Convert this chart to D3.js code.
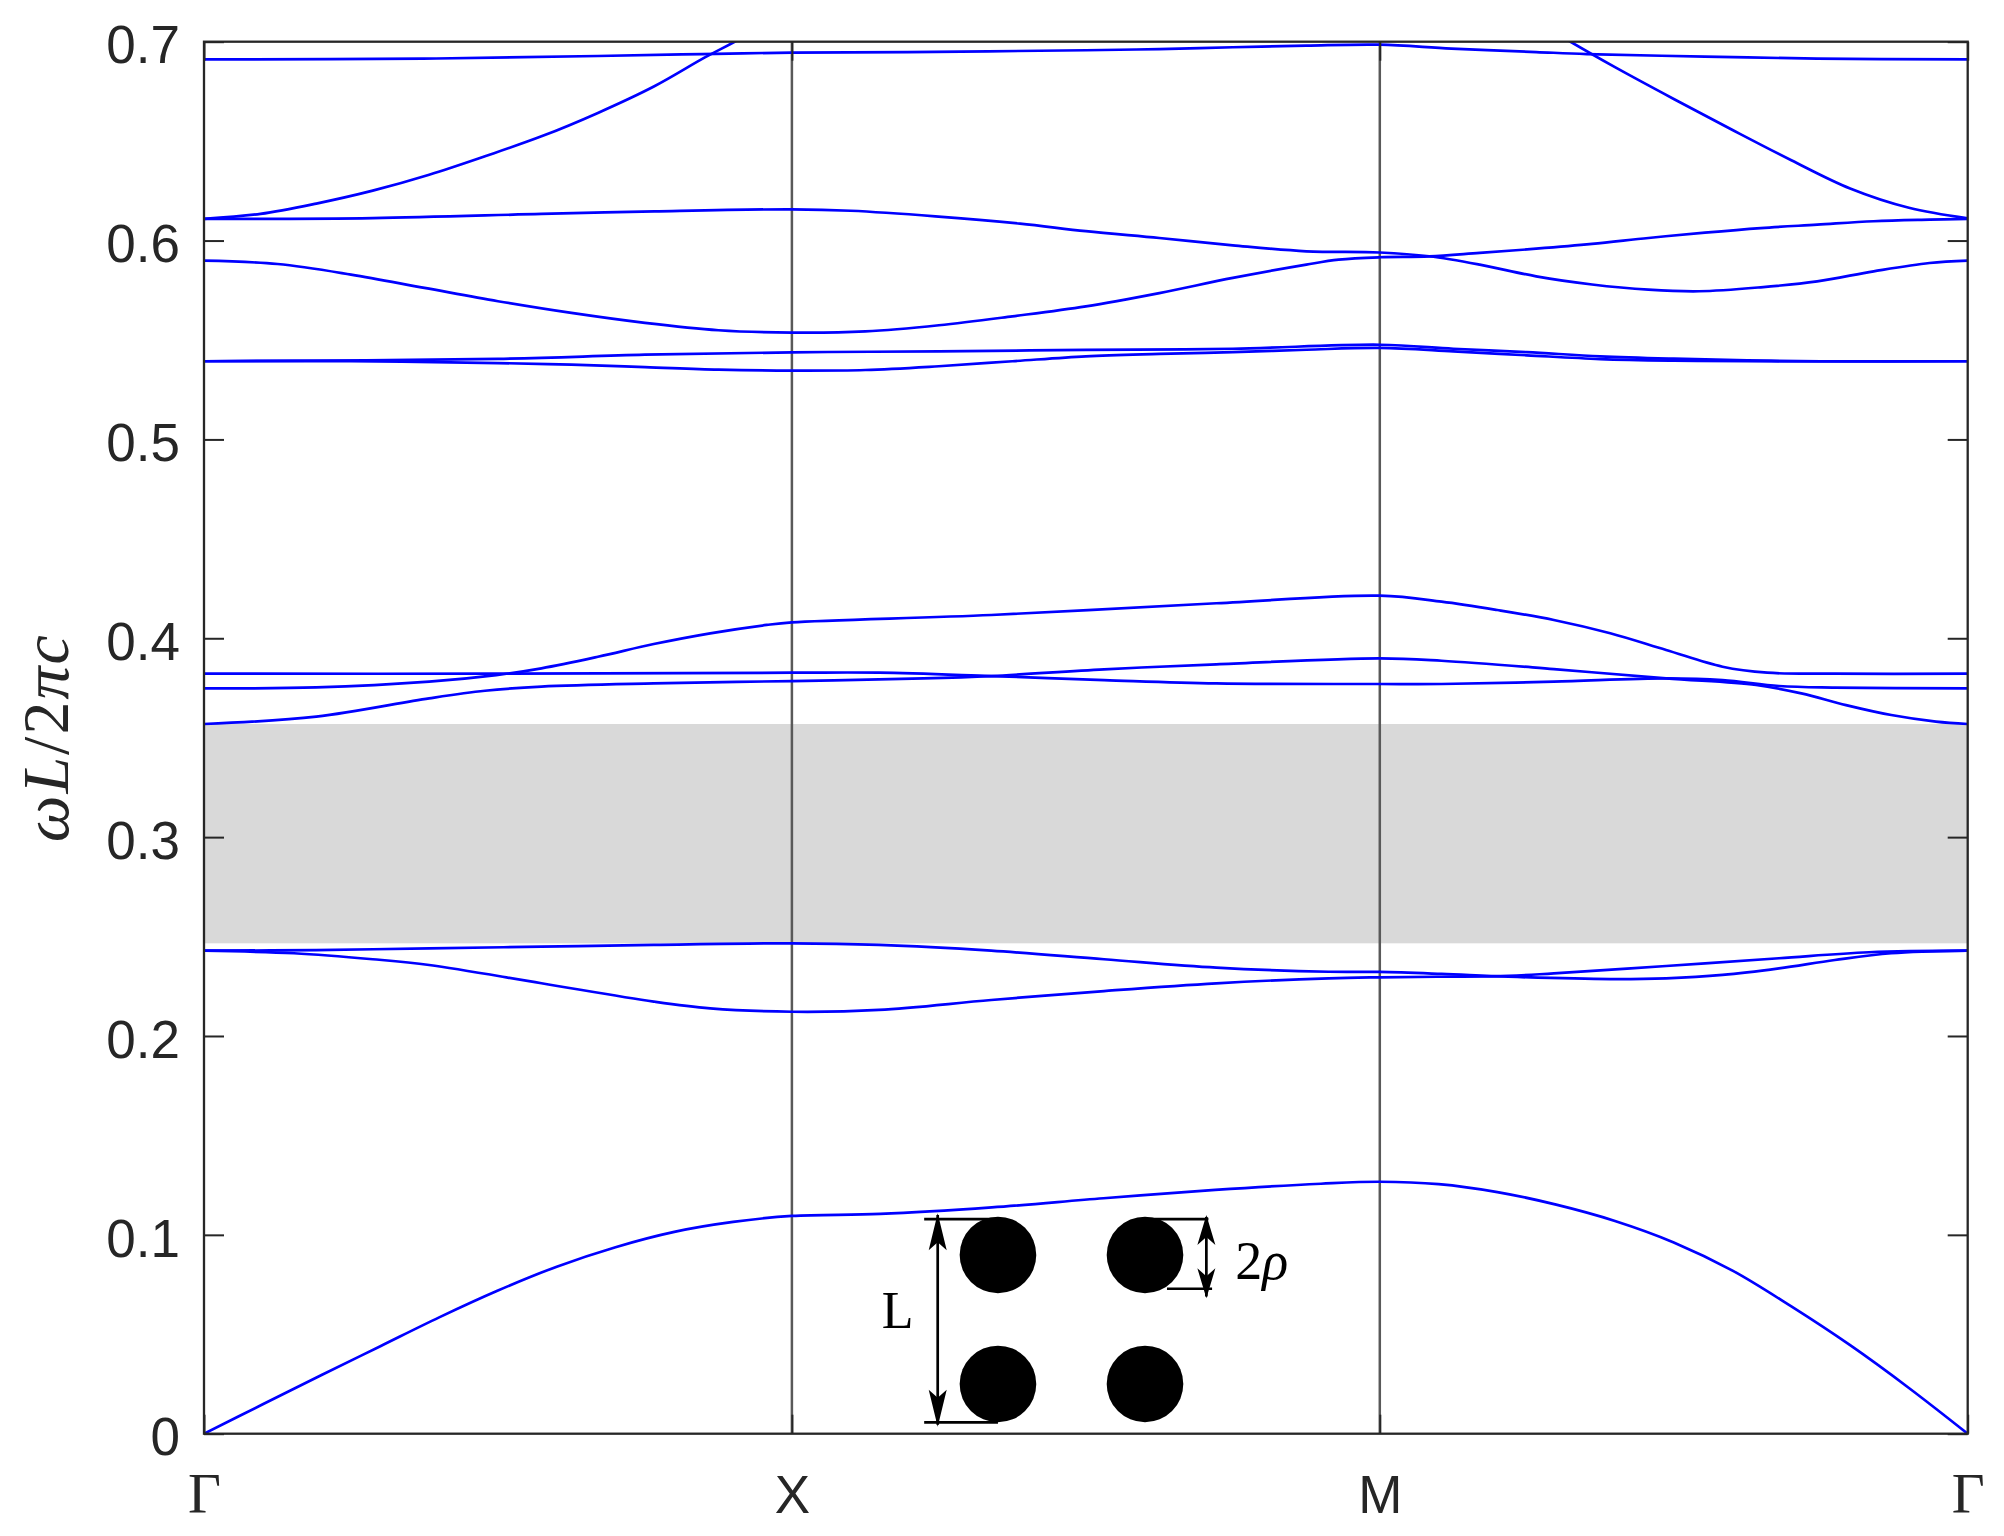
<!DOCTYPE html>
<html><head><meta charset="utf-8">
<script src="https://cdn.jsdelivr.net/npm/d3@7"></script>
<style>html,body{margin:0;padding:0;background:#fff;} svg{display:block;}</style>
</head><body>
<svg id="chart" width="2004" height="1536"></svg>
<script>
// ---- data (k: Γ=0, X=1, M=2, Γ=3 ; value: ωL/2πc) ----
const kTicks = [0, 1, 2, 3];
const kLabels = ["Γ", "X", "M", "Γ"];
const yTicks = [0, 0.1, 0.2, 0.3, 0.4, 0.5, 0.6, 0.7];
const bandGap = [0.2466, 0.3569];

const band1 = [[0,0],[0.1,0.0148],[0.2,0.0295],[0.3,0.0440],[0.4,0.0585],[0.5,0.0720],[0.6,0.0840],[0.7,0.0938],[0.8,0.1015],[0.9,0.1065],[1,0.1095],[1.15,0.1105],[1.34,0.1138],[1.53,0.1184],[1.72,0.1226],[1.9,0.1257],[2,0.1267],[2.1,0.1255],[2.2,0.1215],[2.3,0.1152],[2.4,0.1070],[2.5,0.0962],[2.6,0.0820],[2.7,0.0640],[2.8,0.0445],[2.9,0.0230],[3,0]];
const band2 = [[0,0.2429],[0.153,0.2416],[0.287,0.2386],[0.383,0.2357],[0.574,0.2265],[0.765,0.2173],[0.861,0.2139],[1,0.2122],[1.148,0.2131],[1.339,0.2181],[1.531,0.2226],[1.722,0.2265],[1.913,0.2290],[2,0.2295],[2.105,0.2298],[2.219,0.2302],[2.296,0.2315],[2.487,0.2352],[2.679,0.2391],[2.832,0.2421],[3,0.2429]];
const band3 = [[0,0.2429],[0.191,0.2432],[0.383,0.2441],[0.574,0.2449],[0.765,0.2458],[1,0.2466],[1.148,0.2458],[1.339,0.2429],[1.531,0.2386],[1.722,0.2344],[1.913,0.2323],[2,0.2322],[2.105,0.2312],[2.219,0.2298],[2.392,0.2286],[2.487,0.2290],[2.583,0.2307],[2.679,0.2340],[2.774,0.2382],[2.870,0.2416],[3,0.2429]];
const band4 = [[0,0.3569],[0.191,0.3606],[0.383,0.3698],[0.478,0.3736],[0.574,0.3757],[0.765,0.3773],[1,0.3785],[1.224,0.3798],[1.339,0.3810],[1.531,0.3844],[1.722,0.3869],[2,0.3899],[2.105,0.3887],[2.296,0.3845],[2.487,0.3798],[2.640,0.3765],[2.717,0.3723],[2.793,0.3664],[2.870,0.3614],[2.946,0.3581],[3,0.3569]];
const band5 = [[0,0.3822],[0.5,0.3822],[1,0.3827],[1.148,0.3827],[1.339,0.3810],[1.531,0.3790],[1.722,0.3773],[2,0.3770],[2.105,0.3770],[2.296,0.3782],[2.487,0.3798],[2.583,0.3790],[2.679,0.3760],[2.774,0.3752],[3,0.3748]];
const band6 = [[0,0.3748],[0.191,0.3753],[0.383,0.3782],[0.497,0.3815],[0.574,0.3849],[0.670,0.3907],[0.765,0.3971],[0.861,0.4025],[0.957,0.4067],[1,0.4080],[1.339,0.4117],[1.722,0.4176],[2,0.4214],[2.105,0.4184],[2.2,0.4142],[2.296,0.4092],[2.392,0.4025],[2.487,0.3941],[2.583,0.3857],[2.659,0.3827],[2.774,0.3822],[3,0.3822]];
const band7 = [[0,0.5393],[0.25,0.5393],[0.5,0.5384],[0.625,0.5376],[0.75,0.5364],[0.875,0.5351],[1,0.5346],[1.125,0.5349],[1.25,0.5368],[1.375,0.5393],[1.5,0.5418],[1.625,0.5430],[1.75,0.5439],[1.875,0.5451],[2,0.5460],[2.125,0.5443],[2.25,0.5423],[2.375,0.5404],[2.5,0.5396],[2.625,0.5393],[3,0.5393]];
const band8 = [[0,0.5393],[0.5,0.5405],[0.75,0.5426],[1,0.5438],[1.25,0.5443],[1.5,0.5450],[1.75,0.5456],[2,0.5476],[2.125,0.5456],[2.25,0.5439],[2.375,0.5418],[2.5,0.5406],[2.625,0.5398],[2.75,0.5393],[3,0.5393]];
const band9 = [[0,0.5899],[0.125,0.5882],[0.25,0.5829],[0.375,0.5762],[0.5,0.5695],[0.625,0.5636],[0.75,0.5586],[0.875,0.5549],[1,0.5537],[1.125,0.5543],[1.25,0.5574],[1.375,0.5619],[1.5,0.5669],[1.625,0.5736],[1.75,0.5812],[1.875,0.5879],[1.93,0.5904],[2,0.5916],[2.084,0.5920],[2.17,0.5938],[2.266,0.5959],[2.361,0.5983],[2.457,0.6013],[2.553,0.6040],[2.648,0.6063],[2.744,0.6080],[2.84,0.6097],[2.935,0.6105],[3,0.6109]];
const band10 = [[0,0.6109],[0.287,0.6113],[0.574,0.6134],[0.766,0.6147],[1,0.6157],[1.1,0.6150],[1.244,0.6122],[1.388,0.6085],[1.5,0.6047],[1.625,0.6013],[1.75,0.5976],[1.875,0.5946],[2,0.5940],[2.084,0.5921],[2.17,0.5879],[2.266,0.5820],[2.361,0.5779],[2.457,0.5753],[2.543,0.5745],[2.648,0.5765],[2.744,0.5795],[2.84,0.5845],[2.935,0.5887],[3,0.5899]];
const band11a = [[0,0.6109],[0.096,0.6134],[0.191,0.6186],[0.287,0.6251],[0.383,0.6331],[0.478,0.6424],[0.574,0.6524],[0.670,0.6642],[0.766,0.6776],[0.852,0.6921],[0.904,0.7002],[0.95,0.708]];
const band11b = [[2.28,0.7078],[2.323,0.7002],[2.4,0.6872],[2.5,0.6712],[2.6,0.6556],[2.7,0.6404],[2.8,0.6262],[2.9,0.6165],[3,0.6112]];
const band12 = [[0,0.6911],[0.373,0.6915],[0.67,0.6928],[0.847,0.6938],[1,0.6945],[1.196,0.6948],[1.5,0.6957],[1.625,0.6963],[1.75,0.6972],[1.875,0.6980],[2,0.6985],[2.122,0.6965],[2.266,0.6948],[2.352,0.6938],[2.553,0.6925],[2.744,0.6915],[3,0.6911]];
const bands = [band1, band2, band3, band4, band5, band6, band7, band8, band9, band10, band11a, band11b, band12];

// inset (lattice sketch) in axis units
const insetCols = [1.3505, 1.6006];
const insetRows = [0.0899, 0.0250];

// ---- layout ----
const svg = d3.select("#chart");
const pLeft = 204, pRight = 1967.7, pTop = 41.7, pBottom = 1433.7;
const x = d3.scaleLinear().domain([0, 3]).range([pLeft, pRight]);
const y = d3.scaleLinear().domain([0, 0.7]).range([pBottom, pTop]);
const axisColor = "#262626";

svg.append("defs").append("clipPath").attr("id", "plotclip")
  .append("rect").attr("x", pLeft).attr("y", pTop).attr("width", pRight - pLeft).attr("height", pBottom - pTop);

// band gap
svg.append("rect")
  .attr("x", x(0)).attr("width", x(3) - x(0))
  .attr("y", y(bandGap[1])).attr("height", y(bandGap[0]) - y(bandGap[1]))
  .attr("fill", "#d9d9d9");

// vertical lines at high-symmetry points
svg.append("g").selectAll("line").data(kTicks.slice(1, 3)).join("line")
  .attr("x1", d => x(d)).attr("x2", d => x(d))
  .attr("y1", pTop).attr("y2", pBottom)
  .attr("stroke", "#595959").attr("stroke-width", 2.5);

// bands
const line = d3.line().x(d => x(d[0])).y(d => y(d[1])).curve(d3.curveCatmullRom.alpha(0.5));
svg.append("g").attr("clip-path", "url(#plotclip)")
  .selectAll("path").data(bands).join("path")
  .attr("d", line).attr("fill", "none").attr("stroke", "#0000ff").attr("stroke-width", 2.7)
  .attr("stroke-linejoin", "round");

// axes
const fontSans = "'Liberation Sans', Arial, Helvetica, sans-serif";
const fontSerif = "'Liberation Serif', 'Times New Roman', serif";

const gL = svg.append("g").attr("transform", `translate(${pLeft},0)`)
  .call(d3.axisLeft(y).tickValues(yTicks).tickSizeInner(-20).tickSizeOuter(0).tickPadding(24)
    .tickFormat(d => d === 0 ? "0" : d3.format(".1f")(d)));
const gR = svg.append("g").attr("transform", `translate(${pRight},0)`)
  .call(d3.axisRight(y).tickValues(yTicks).tickSizeInner(-20).tickSizeOuter(0).tickFormat(""));
const gB = svg.append("g").attr("transform", `translate(0,${pBottom})`)
  .call(d3.axisBottom(x).tickValues(kTicks).tickSizeInner(-19).tickSizeOuter(0).tickFormat((d, i) => kLabels[i]));
const gT = svg.append("g").attr("transform", `translate(0,${pTop})`)
  .call(d3.axisTop(x).tickValues(kTicks).tickSizeInner(-19).tickSizeOuter(0).tickFormat(""));
[gL, gR, gB, gT].forEach(g => {
  g.select(".domain").remove();
  g.selectAll(".tick line").attr("stroke", axisColor).attr("stroke-width", 2);
});
gL.selectAll("text").attr("font-family", fontSans).attr("font-size", 53).attr("fill", axisColor).attr("dy", "0.40em");
gB.selectAll("text")
  .attr("font-family", (d, i) => kLabels[i] === "Γ" ? fontSerif : fontSans)
  .attr("font-size", (d, i) => kLabels[i] === "Γ" ? 57 : 53)
  .attr("fill", axisColor).attr("y", 79).attr("dy", 0);

// box
svg.append("rect").attr("x", pLeft).attr("y", pTop).attr("width", pRight - pLeft).attr("height", pBottom - pTop)
  .attr("fill", "none").attr("stroke", axisColor).attr("stroke-width", 2.3);

// y label
const yl = svg.append("text")
  .attr("transform", `translate(68,${(pTop + pBottom) / 2}) rotate(-90)`)
  .attr("text-anchor", "middle").attr("font-family", fontSerif).attr("font-size", 66)
  .attr("fill", axisColor).attr("letter-spacing", 2);
[["ω", "italic"], ["L", "italic"], ["/", "normal"], ["2", "normal"], ["π", "italic"], ["c", "italic"]]
  .forEach(([t, s]) => yl.append("tspan").attr("font-style", s).text(t));

// ---- inset ----
const inset = svg.append("g");
const rPix = y(0) - y(0.01926);
insetRows.forEach(r => insetCols.forEach(c => {
  inset.append("circle").attr("cx", x(c)).attr("cy", y(r)).attr("r", rPix).attr("fill", "#000");
}));
function seg(k1, v1, k2, v2) {
  inset.append("line").attr("x1", x(k1)).attr("y1", y(v1)).attr("x2", x(k2)).attr("y2", y(v2))
    .attr("stroke", "#000").attr("stroke-width", 2.7);
}
function head(k, v, dir, len) { // dir=+1 points up, -1 points down
  const px = x(k), py = y(v), w = 9;
  inset.append("path").attr("fill", "#000")
    .attr("d", `M${px},${py} L${px - w},${py + dir * len} L${px},${py + dir * (len - 8)} L${px + w},${py + dir * len} Z`);
}
// L arrow
seg(1.225, 0.1079, insetCols[0], 0.1079);
seg(1.225, 0.0057, insetCols[0], 0.0057);
seg(1.248, 0.1100, 1.248, 0.0045);
head(1.248, 0.1109, 1, 37);
head(1.248, 0.0035, -1, 37);
// 2rho arrow
seg(insetCols[1], 0.1079, 1.7085, 0.1079);
seg(1.638, 0.0729, 1.7147, 0.0729);
seg(1.705, 0.1090, 1.705, 0.0690);
head(1.705, 0.1100, 1, 30);
head(1.705, 0.0681, -1, 30);
inset.append("text").attr("x", x(1.153)).attr("y", y(0.0531))
  .attr("font-family", fontSerif).attr("font-size", 52).attr("fill", "#000").text("L");
const rt = inset.append("text").attr("x", x(1.7543)).attr("y", y(0.0777))
  .attr("font-family", fontSerif).attr("font-size", 54).attr("fill", "#000");
rt.append("tspan").text("2");
rt.append("tspan").attr("font-style", "italic").text("ρ");
</script>
</body></html>
